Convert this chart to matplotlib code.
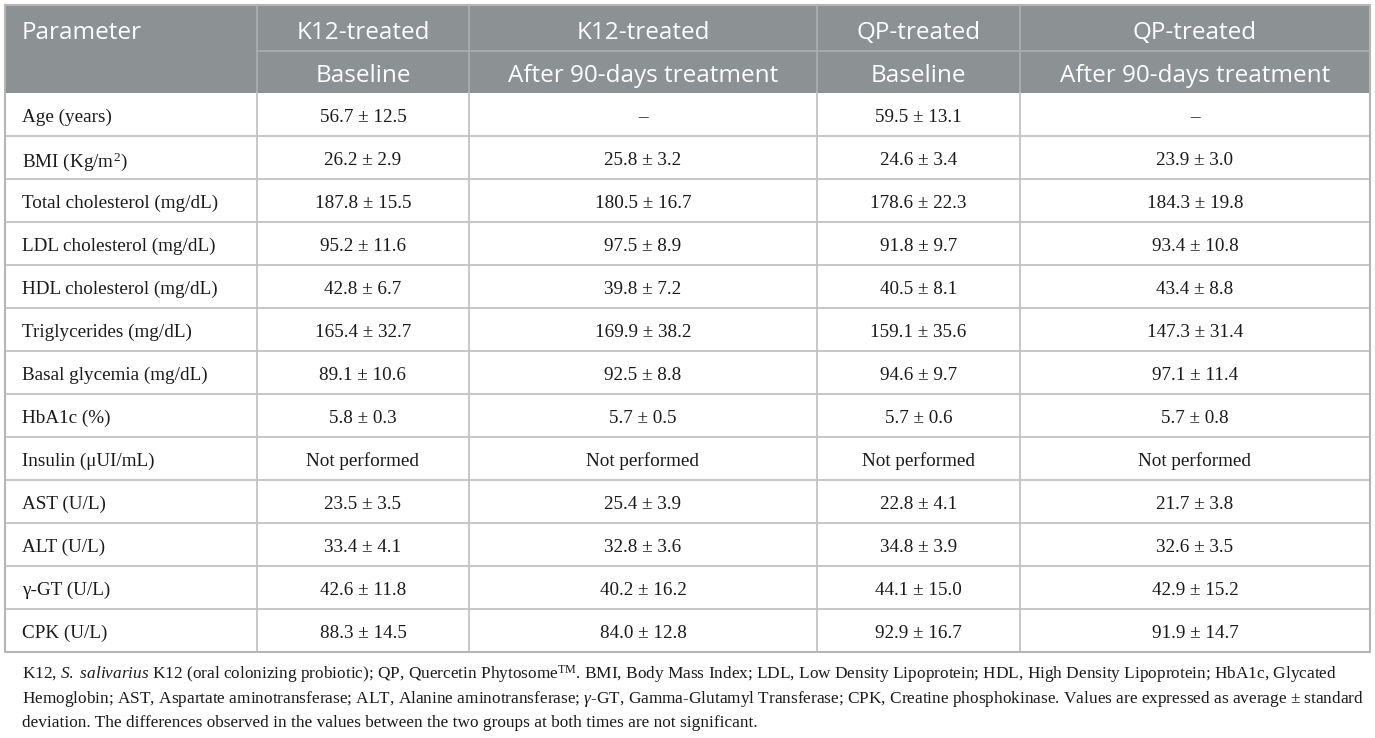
import matplotlib
matplotlib.use("Agg")
import matplotlib.pyplot as plt

plt.rcParams['mathtext.fontset'] = 'custom'
plt.rcParams['mathtext.rm'] = 'Liberation Serif'
plt.rcParams['mathtext.it'] = 'Liberation Serif:italic'

# table content
groups = ["K12-treated", "K12-treated", "QP-treated", "QP-treated"]
times = ["Baseline", "After 90-days treatment", "Baseline", "After 90-days treatment"]

parametros = ["Age (years)", r"BMI (Kg/m$^{2}$)", "Total cholesterol (mg/dL)",
              "LDL cholesterol (mg/dL)", "HDL cholesterol (mg/dL)",
              "Triglycerides (mg/dL)", "Basal glycemia (mg/dL)", "HbA1c (%)",
              "Insulin (μUI/mL)", "AST (U/L)", "ALT (U/L)", "γ-GT (U/L)", "CPK (U/L)"]

k12_base = ["56.7 ± 12.5", "26.2 ± 2.9", "187.8 ± 15.5", "95.2 ± 11.6", "42.8 ± 6.7",
            "165.4 ± 32.7", "89.1 ± 10.6", "5.8 ± 0.3", "Not performed", "23.5 ± 3.5",
            "33.4 ± 4.1", "42.6 ± 11.8", "88.3 ± 14.5"]
k12_90d = ["–", "25.8 ± 3.2", "180.5 ± 16.7", "97.5 ± 8.9", "39.8 ± 7.2",
           "169.9 ± 38.2", "92.5 ± 8.8", "5.7 ± 0.5", "Not performed", "25.4 ± 3.9",
           "32.8 ± 3.6", "40.2 ± 16.2", "84.0 ± 12.8"]
qp_base = ["59.5 ± 13.1", "24.6 ± 3.4", "178.6 ± 22.3", "91.8 ± 9.7", "40.5 ± 8.1",
           "159.1 ± 35.6", "94.6 ± 9.7", "5.7 ± 0.6", "Not performed", "22.8 ± 4.1",
           "34.8 ± 3.9", "44.1 ± 15.0", "92.9 ± 16.7"]
qp_90d = ["–", "23.9 ± 3.0", "184.3 ± 19.8", "93.4 ± 10.8", "43.4 ± 8.8",
          "147.3 ± 31.4", "97.1 ± 11.4", "5.7 ± 0.8", "Not performed", "21.7 ± 3.8",
          "32.6 ± 3.5", "42.9 ± 15.2", "91.9 ± 14.7"]

nota = [
    r"K12, $\it{S.\ salivarius}$ K12 (oral colonizing probiotic); QP, Quercetin Phytosome$^{\mathrm{TM}}$. BMI, Body Mass Index; LDL, Low Density Lipoprotein; HDL, High Density Lipoprotein; HbA1c, Glycated",
    r"Hemoglobin; AST, Aspartate aminotransferase; ALT, Alanine aminotransferase; $\it{γ}$-GT, Gamma-Glutamyl Transferase; CPK, Creatine phosphokinase. Values are expressed as average ± standard",
    "deviation. The differences observed in the values between the two groups at both times are not significant.",
]

columnas = [k12_base, k12_90d, qp_base, qp_90d]

# layout in pixels
W, H = 1375, 738
xs = [5, 257, 469, 817, 1020, 1370]
top, mid, hbot, fila = 5, 51, 93, 43.0
bot = hbot + fila * len(parametros)

gris = "#8c9193"
linea = "#c3c3c3"
linea_h = "#a9aeb0"

fig = plt.figure(figsize=(W / 100, H / 100), dpi=100)
ax = fig.add_axes([0, 0, 1, 1])
ax.set_xlim(0, W)
ax.set_ylim(H, 0)
ax.axis("off")

# header
ax.fill_between([xs[0], xs[-1]], top, hbot, color=gris, lw=0)
for x in xs[1:-1]:
    ax.plot([x, x], [top, hbot], color=linea_h, lw=1.3)
ax.plot([xs[1], xs[-1]], [mid, mid], color=linea_h, lw=1.3)

hfont = dict(family="Open Sans", size=17.5, color="white", va="center_baseline")
ax.text(22, (top + mid) / 2 + 2, "Parameter", ha="left", **hfont)
for i in range(4):
    cx = (xs[i + 1] + xs[i + 2]) / 2
    ax.text(cx, (top + mid) / 2 + 2, groups[i], ha="center", **hfont)
    ax.text(cx, (mid + hbot) / 2 + 1, times[i], ha="center", **hfont)

# body
bfont = dict(family="Liberation Serif", size=13.8, color="#1a1a1a", va="center_baseline")
for r, p in enumerate(parametros):
    cy = hbot + fila * (r + 0.5) + 1
    ax.text(22, cy, p, ha="left", **bfont)
    for c, col in enumerate(columnas):
        cx = (xs[c + 1] + xs[c + 2]) / 2
        ax.text(cx, cy, col[r], ha="center", **bfont)
    if r > 0:
        ax.plot([xs[0], xs[-1]], [hbot + fila * r] * 2, color=linea, lw=1.3)

for x in xs[1:-1]:
    ax.plot([x, x], [hbot, bot], color=linea, lw=1.3)

# outer border
ax.plot([xs[0], xs[-1], xs[-1], xs[0], xs[0]], [top, top, bot, bot, top],
        color="#b5b5b5", lw=1.5)

# footnote
for i, t in enumerate(nota):
    ax.text(22, 679 + 24 * i, t, ha="left", va="baseline",
            family="Liberation Serif", size=12.4, color="#1a1a1a")

plt.savefig("out.png", dpi=100)
